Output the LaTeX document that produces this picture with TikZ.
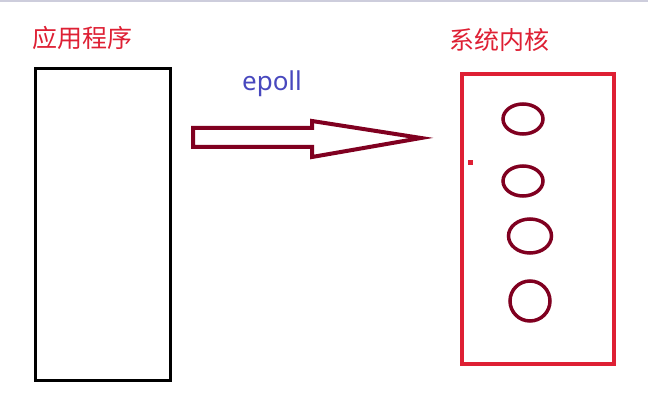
\documentclass[tikz,border=0pt]{standalone}
\usepackage{fontspec}
\setmainfont{Noto Sans}
\newfontfamily\cjk{Noto Sans CJK SC}
\usetikzlibrary{calc}

\definecolor{titlered}{RGB}{222,32,52}
\definecolor{darkred}{RGB}{128,0,32}
\definecolor{epollblue}{RGB}{72,72,190}
\definecolor{topline}{RGB}{205,205,220}

\begin{document}
\begin{tikzpicture}[x=1pt,y=-1pt,
    title/.style={text=titlered,font=\cjk\fontsize{25}{25}\selectfont,inner sep=0pt},
    slot/.style={draw=darkred,line width=3.5pt}]
              \useasboundingbox (0,0) rectangle (648,411);
              \draw[topline,line width=2pt] (0,1) -- (648,1);
              % application side
              \node[title](apptitle)at(82,38){应用程序};
              \draw[line width=3pt] (35,69) rectangle (170,381);
              % kernel side
              \node[title](kerneltitle)at(499,40){系统内核};
              \draw[titlered,line width=4pt] (462,74) rectangle (614,364);
              \fill[titlered] (467.5,160.5) rectangle (472.5,165.5);
              \draw[slot] (523,119) ellipse (20 and 15);
              \draw[slot] (523,181) ellipse (20 and 15);
              \draw[slot] (530,236) ellipse (21.5 and 17);
              \draw[slot] (530,301) ellipse (20 and 20);
              % epoll arrow
              \node[text=epollblue,font=\fontsize{26}{26}\selectfont,inner sep=0pt](label)at(272,84){epoll};
              \draw[darkred,line width=4pt,line join=miter]
                (193,128) -- (312,128) -- (312,121) -- (421,138)
                -- (312,157) -- (312,147) -- (193,147) -- cycle;
            \end{tikzpicture}
\end{document}
